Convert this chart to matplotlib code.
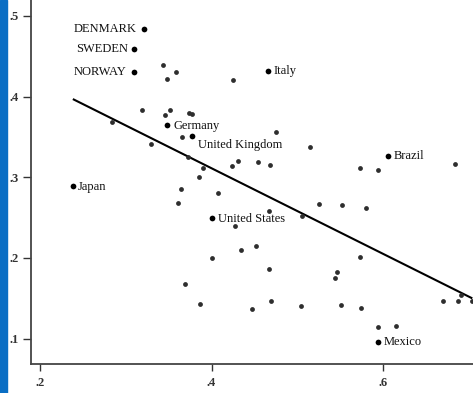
import matplotlib
matplotlib.use("Agg")
import matplotlib.pyplot as plt
from matplotlib.patches import Rectangle
import numpy as np

# ---- data ----
labeled_names = ["DENMARK", "SWEDEN", "NORWAY", "Italy", "Germany",
                 "United Kingdom", "Brazil", "Japan", "United States", "Mexico"]
labeled_x = [0.321, 0.309, 0.309, 0.466, 0.348, 0.377, 0.606, 0.238, 0.400, 0.594]
labeled_y = [0.4835, 0.459, 0.430, 0.4315, 0.3644, 0.3515, 0.3264, 0.2895, 0.2498, 0.096]

other_x = [0.343, 0.358, 0.348, 0.425, 0.319, 0.351, 0.346, 0.374, 0.377, 0.284,
           0.365, 0.329, 0.373, 0.390, 0.385, 0.4245, 0.431, 0.454, 0.468, 0.475,
           0.515, 0.574, 0.594, 0.684, 0.364, 0.408, 0.3605, 0.525, 0.552, 0.580,
           0.4675, 0.506, 0.427, 0.452, 0.434, 0.4006, 0.573, 0.467, 0.547, 0.544,
           0.369, 0.386, 0.4475, 0.469, 0.505, 0.551, 0.575, 0.671, 0.688, 0.7047,
           0.6915, 0.595, 0.616]
other_y = [0.439, 0.430, 0.422, 0.421, 0.383, 0.383, 0.3775, 0.380, 0.379, 0.3685,
           0.350, 0.341, 0.3255, 0.311, 0.300, 0.314, 0.320, 0.3185, 0.3146, 0.3555,
           0.337, 0.311, 0.3086, 0.316, 0.285, 0.281, 0.268, 0.267, 0.265, 0.2615,
           0.2585, 0.252, 0.239, 0.215, 0.210, 0.200, 0.201, 0.186, 0.182, 0.175,
           0.167, 0.143, 0.137, 0.1465, 0.140, 0.141, 0.138, 0.147, 0.147, 0.1465,
           0.154, 0.114, 0.115]

fit_intercept = 0.523
fit_slope = -0.5296

xticks = [0.2, 0.4, 0.6]
xtick_labels = [".2", ".4", ".6"]
yticks = [0.1, 0.2, 0.3, 0.4, 0.5]
ytick_labels = [".1", ".2", ".3", ".4", ".5"]

# label offsets in pixels (dx, dy) and horizontal alignment
label_style = {
    "DENMARK": (-7, 0, "right"),
    "SWEDEN": (-6, 0, "right"),
    "NORWAY": (-7, 0, "right"),
    "Italy": (6, 0, "left"),
    "Germany": (6, -1, "left"),
    "United Kingdom": (6, -9, "left"),
    "Brazil": (6, 0, "left"),
    "Japan": (5, -1, "left"),
    "United States": (6, -1.5, "left"),
    "Mexico": (6, 0, "left"),
}

plt.rcParams['font.family'] = ['Liberation Serif', 'DejaVu Serif']

W, H = 473, 393
fig = plt.figure(figsize=(W / 100, H / 100), dpi=100)
fig.patches.append(Rectangle((0, 0), 7 / W, 1, transform=fig.transFigure,
                             color="#0A6EC4", zorder=10))
ax = fig.add_axes([31 / W, 29 / H, 1 - 31 / W, 1 - 29 / H])

ax.scatter(other_x, other_y, s=12, color="#2e2e2e", zorder=3, linewidths=0)
ax.scatter(labeled_x, labeled_y, s=17, color="#000000", zorder=4, linewidths=0)

all_x = np.array(labeled_x + other_x)
xs = np.array([all_x.min(), all_x.max()])
ax.plot(xs, fit_intercept + fit_slope * xs, color="black", lw=1.5, zorder=2,
        solid_capstyle="butt")

for name, x, y in zip(labeled_names, labeled_x, labeled_y):
    dx, dy, ha = label_style[name]
    ax.annotate(name, (x, y), xytext=(dx, dy), textcoords="offset pixels",
                ha=ha, va="center", fontsize=9, color="#111111")

ax.set_xlim(0.1891, 0.7055)
ax.set_ylim(0.0684, 0.5198)
ax.set_xticks(xticks)
ax.set_xticklabels(xtick_labels, fontweight="bold")
ax.set_yticks(yticks)
ax.set_yticklabels(ytick_labels, fontweight="bold")
ax.tick_params(axis="both", labelsize=9, colors="#333333", width=1.0,
               labelcolor="#333333")
ax.tick_params(axis="y", length=6, pad=3)
ax.tick_params(axis="x", length=5, pad=4)
for s in ["top", "right"]:
    ax.spines[s].set_visible(False)
for s in ["left", "bottom"]:
    ax.spines[s].set_color("#444444")
    ax.spines[s].set_linewidth(1.3)
ax.patch.set_alpha(0)

fig.savefig("out.png", dpi=100)
